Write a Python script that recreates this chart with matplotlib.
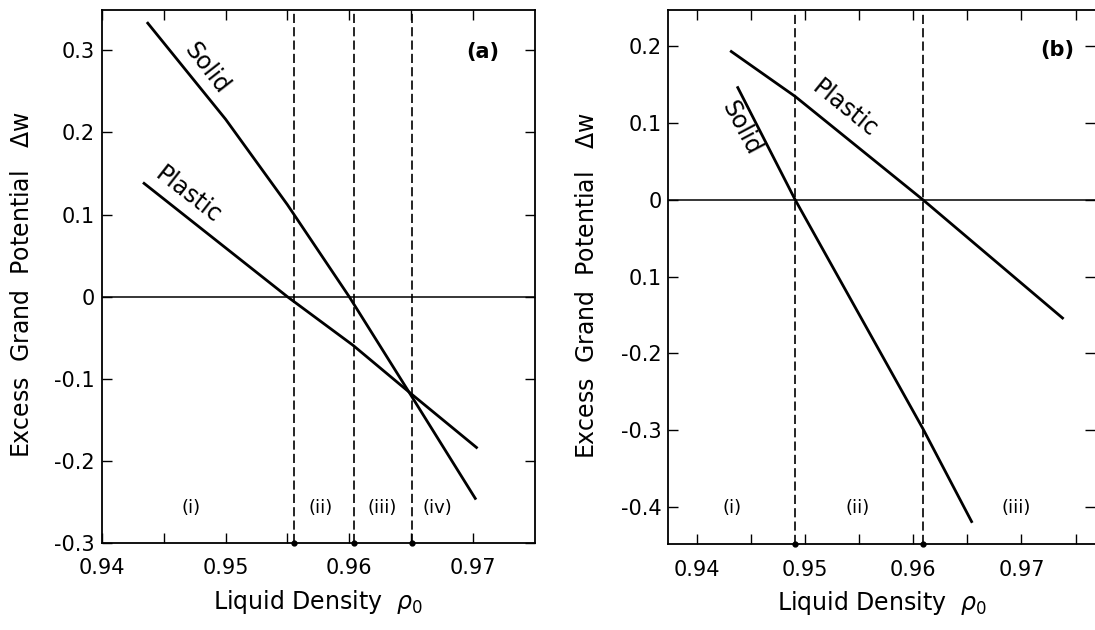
import numpy as np
import matplotlib
matplotlib.use("Agg")
import matplotlib.pyplot as plt

plt.rcParams.update({
    "font.family": "DejaVu Sans",
    "font.size": 15,
    "mathtext.fontset": "dejavusans",
})

# ---- panel (a) data ----
a_solid_x = [0.9437, 0.950, 0.955, 0.960, 0.965, 0.9702]
a_solid_y = [0.333, 0.216, 0.112, 0.0, -0.12, -0.2455]
a_plastic_x = [0.9434, 0.955, 0.9603, 0.965, 0.9703]
a_plastic_y = [0.138, 0.0, -0.059, -0.118, -0.1835]
a_dashes = [0.9555, 0.9604, 0.9651]
a_regions = ["(i)", "(ii)", "(iii)", "(iv)"]
a_region_x = [0.94721, 0.95768, 0.96265, 0.96715]
a_yticks = [-0.3, -0.2, -0.1, 0.0, 0.1, 0.2, 0.3]
a_yticklabels = ["-0.3", "-0.2", "-0.1", "0", "0.1", "0.2", "0.3"]

# ---- panel (b) data ----
b_solid_x = [0.9438, 0.9491, 0.9609, 0.9654]
b_solid_y = [0.146, 0.0, -0.298, -0.419]
b_plastic_x = [0.9432, 0.9491, 0.9609, 0.9738]
b_plastic_y = [0.193, 0.1345, 0.0, -0.154]
b_dashes = [0.9491, 0.9609]
b_regions = ["(i)", "(ii)", "(iii)"]
b_region_x = [0.94327, 0.95491, 0.96952]
b_yticks = [-0.4, -0.3, -0.2, -0.1, 0.0, 0.1, 0.2]
b_yticklabels = ["-0.4", "-0.3", "-0.2", "0.1", "0", "0.1", "0.2"]

xticks = [0.94, 0.95, 0.96, 0.97]
xticklabels = ["0.94", "0.95", "0.96", "0.97"]

fig = plt.figure(figsize=(10.95, 6.3), dpi=100)
ax_a = fig.add_axes([0.0932, 0.1378, 0.3950, 0.8463])
ax_b = fig.add_axes([0.6105, 0.1359, 0.3895, 0.8482])


def style(ax, xlim, ylim, yticks, yticklabels, minor_x, ylab_x):
    ax.set_xlim(*xlim)
    ax.set_ylim(*ylim)
    ax.set_xticks(xticks)
    ax.set_xticklabels(xticklabels)
    ax.set_xticks(minor_x, minor=True)
    ax.set_yticks(yticks)
    ax.set_yticklabels(yticklabels)
    ax.tick_params(which="both", direction="in", length=7, width=1,
                   top=True, right=True, labelsize=15)
    ax.tick_params(axis="x", pad=11)
    ax.tick_params(axis="y", pad=5)
    for s in ax.spines.values():
        s.set_linewidth(1.3)
    ax.axhline(0, color="black", lw=1.1, zorder=1)
    ax.set_xlabel(r"Liquid Density  $\rho_0$", fontsize=17, labelpad=7)
    ax.set_ylabel(r"Excess  Grand  Potential   $\Delta$w", fontsize=17)
    ax.yaxis.set_label_coords(ylab_x, 0.485)


# panel (a)
style(ax_a, (0.94, 0.975), (-0.3, 0.349), a_yticks, a_yticklabels,
      [0.945, 0.955, 0.965], -0.157)
ax_a.plot(a_solid_x, a_solid_y, color="black", lw=2.0)
ax_a.plot(a_plastic_x, a_plastic_y, color="black", lw=2.0)
for xd in a_dashes:
    ax_a.axvline(xd, color="black", lw=1.2, ls=(0, (5.5, 2.5)))
ax_a.plot(a_dashes, [-0.3] * len(a_dashes), "o", color="black", ms=3.5,
          clip_on=False)
for lab, xr in zip(a_regions, a_region_x):
    ax_a.text(xr, -0.2575, lab, ha="center", va="center", fontsize=13)
ax_a.text(0.94844, 0.278, "Solid", rotation=-52, ha="center", va="center",
          rotation_mode="anchor", fontsize=17)
ax_a.text(0.9470, 0.124, "Plastic", rotation=-38, ha="center", va="center",
          rotation_mode="anchor", fontsize=17)
ax_a.text(0.97081, 0.2985, "(a)", ha="center", va="center", fontsize=15,
          fontweight="bold")

# panel (b)
style(ax_b, (0.9374, 0.9768), (-0.4487, 0.247), b_yticks, b_yticklabels,
      [0.945, 0.955, 0.965, 0.975], -0.163)
ax_b.spines["right"].set_visible(False)
ax_b.plot(b_solid_x, b_solid_y, color="black", lw=2.0)
ax_b.plot(b_plastic_x, b_plastic_y, color="black", lw=2.0)
for xd in b_dashes:
    ax_b.axvline(xd, color="black", lw=1.2, ls=(0, (5.5, 2.5)))
ax_b.plot(b_dashes, [-0.4487] * len(b_dashes), "o", color="black", ms=3.5,
          clip_on=False)
for lab, xr in zip(b_regions, b_region_x):
    ax_b.text(xr, -0.4016, lab, ha="center", va="center", fontsize=13)
ax_b.text(0.9441, 0.0928, "Solid", rotation=-62, ha="center", va="center",
          rotation_mode="anchor", fontsize=17)
ax_b.text(0.9537, 0.119, "Plastic", rotation=-39, ha="center", va="center",
          rotation_mode="anchor", fontsize=17)
ax_b.text(0.97333, 0.195, "(b)", ha="center", va="center", fontsize=15,
          fontweight="bold")

fig.savefig("out.png", dpi=100)
